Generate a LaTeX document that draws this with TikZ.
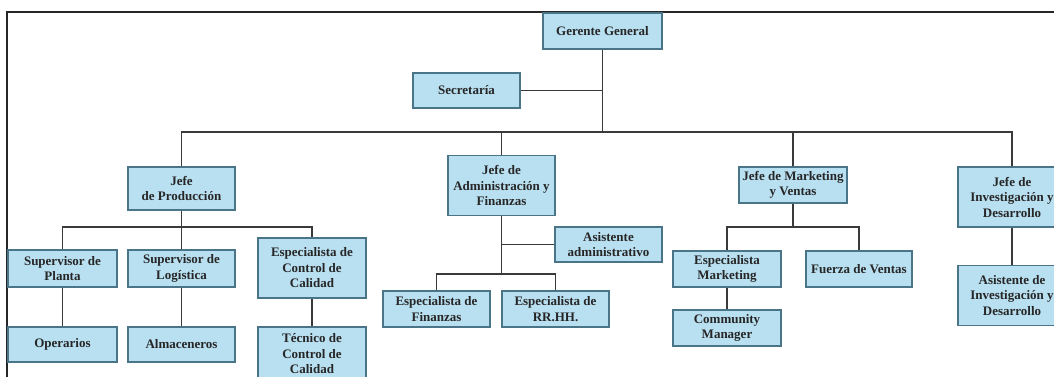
\documentclass[tikz,border=0pt]{standalone}
\usepackage{fontspec}
\setmainfont{Liberation Serif}
\definecolor{boxfill}{HTML}{B9E0F1}
\definecolor{boxline}{HTML}{4A7488}
\definecolor{linkgray}{HTML}{3A3A3A}
\begin{document}
\begin{tikzpicture}[x=1pt, y=-1pt]
  \tikzstyle{box} = [rectangle, draw=boxline, fill=boxfill, minimum width = 107pt, minimum height = 36pt, line width = 1.2pt, inner sep = 1pt, align = center, text = black!85, font = \bfseries\fontsize{13}{15.5}\selectfont]
  \tikzstyle{tallbox} = [box, minimum height = 60pt]
  \tikzstyle{link} = [draw=linkgray, line width = 1.4pt]
  \tikzstyle{frame} = [draw=black!85, line width = 2pt]

  \useasboundingbox (0,0) rectangle (1054,377);
  \clip (0,0) rectangle (1054,377);
  \fill[white] (0,0) rectangle (1054,377);
  \draw[frame] (7,380) -- (7,12) -- (1060,12);

  % top
  \node [box, minimum width = 119pt] at (602.5,31) (gerente) {Gerente General};
  \node [box, minimum height = 35pt] at (466.5,90.5) (secretaria) {Secretaría};

  % jefes
  \node [box, minimum height = 43pt] at (181.5,188.5) (jefe_prod) {Jefe\\de Producción};
  \node [tallbox] at (501.5,185.5) (jefe_admin) {Jefe de\\Administración y\\Finanzas};
  \node [box, minimum width = 108pt] at (793,185) (jefe_mkt) {Jefe de Marketing\\y Ventas};
  \node [tallbox, minimum width = 108pt] at (1012,197) (jefe_inv) {Jefe de\\Investigación y\\Desarrollo};

  % produccion
  \node [box, minimum width = 109pt, minimum height = 37pt] at (62.5,268.5) (sup_planta) {Supervisor de\\Planta};
  \node [box, minimum height = 37pt] at (181.5,268.5) (sup_log) {Supervisor de\\Logística};
  \node [tallbox, minimum width = 108pt] at (312,268) (esp_calidad) {Especialista de\\Control de\\Calidad};
  \node [box, minimum width = 109pt, minimum height = 35pt] at (62.5,344.5) (operarios) {Operarios};
  \node [box, minimum height = 35pt] at (181.5,344.5) (almaceneros) {Almaceneros};
  \node [tallbox, minimum width = 108pt, minimum height = 54pt] at (312,354) (tecnico) {Técnico de\\Control de\\Calidad};

  % administracion
  \node [box, minimum height = 35pt] at (608.5,244.5) (asist_adm) {Asistente\\administrativo};
  \node [box] at (436.5,309) (esp_fin) {Especialista de\\Finanzas};
  \node [box] at (555.5,309) (esp_rrhh) {Especialista de\\RR.HH.};

  % marketing
  \node [box, minimum width = 108pt] at (727,269) (esp_mkt) {Especialista\\Marketing};
  \node [box, minimum width = 106pt] at (859,269) (fuerza) {Fuerza de Ventas};
  \node [box, minimum width = 108pt] at (727,328) (community) {Community\\Manager};

  % investigacion
  \node [tallbox, minimum width = 108pt] at (1012,295.5) (asist_inv) {Asistente de\\Investigación y\\Desarrollo};

  \coordinate (bus) at (602.5,132);
  \coordinate (prodbus) at (181.5,227);
  \coordinate (adminbus) at (501.5,274);
  \coordinate (mktbus) at (793,227);

  \draw[link] (gerente) -- (bus);
  \draw[link] (secretaria) -- (secretaria -| gerente);
  \draw[link] (jefe_prod) |- (bus) -| (jefe_inv);
  \draw[link] (jefe_admin) -- (jefe_admin |- bus);
  \draw[link] (jefe_mkt) -- (jefe_mkt |- bus);

  \draw[link] (jefe_prod) -- (prodbus);
  \draw[link] (sup_planta) |- (prodbus) -| (esp_calidad);
  \draw[link] (sup_log) -- (prodbus);
  \draw[link] (sup_planta) -- (operarios);
  \draw[link] (sup_log) -- (almaceneros);
  \draw[link] (esp_calidad) -- (tecnico);

  \draw[link] (jefe_admin) -- (adminbus);
  \draw[link] (asist_adm) -- (asist_adm -| jefe_admin);
  \draw[link] (esp_fin) |- (adminbus) -| (esp_rrhh);

  \draw[link] (jefe_mkt) -- (mktbus);
  \draw[link] (esp_mkt) |- (mktbus) -| (fuerza);
  \draw[link] (esp_mkt) -- (community);

  \draw[link] (jefe_inv) -- (asist_inv);
\end{tikzpicture}
\end{document}
